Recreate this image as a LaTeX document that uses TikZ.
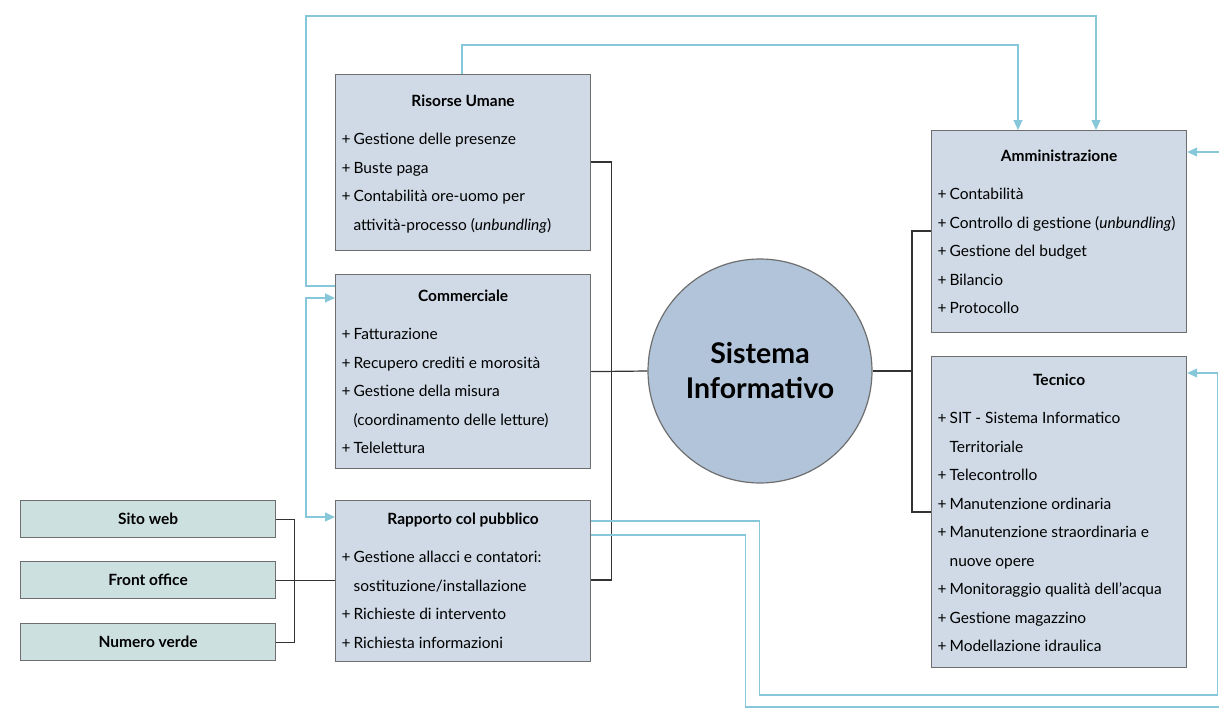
\documentclass[tikz,border=0pt]{standalone}
\usepackage{fontspec}
\setmainfont{Lato}
\usetikzlibrary{arrows.meta, positioning, calc}

\definecolor{boxfill}{HTML}{CFDAE6}
\definecolor{canalefill}{HTML}{CDE0E0}
\definecolor{sifill}{HTML}{B2C4D9}
\definecolor{bordo}{HTML}{6E6E6E}
\definecolor{azzurro}{HTML}{86C8DA}

% una voce dell'elenco, e il suo seguito su una nuova riga
\newcommand\voce[1]{\par\noindent\hspace*{6pt}\makebox[12pt][l]{+}#1}
\newcommand\segue{\newline\hspace*{18pt}}
% contenuto di un reparto: [linea di base del titolo]{altezza}{titolo}{voci}
\newcommand\reparto[4][30]{%
  \begin{minipage}[t][#2pt][t]{255pt}\fontsize{15.5}{28.5}\selectfont\raggedright
  {\centering\rule{0pt}{#1pt}\textbf{#3}\par}\vspace{9.5pt}#4\par
  \end{minipage}}

\tikzset{
  repartobox/.style={draw=bordo, line width=1.2pt, fill=boxfill, inner sep=0pt, anchor=north west},
  canale/.style={draw=bordo, line width=1.2pt, fill=canalefill, minimum width=255pt,
    minimum height=37pt, inner sep=0pt, anchor=north west, font=\fontsize{15.5}{17}\selectfont\bfseries},
  legame/.style={draw=black!80, line width=1.2pt},
  flusso/.style={draw=azzurro, line width=1.1pt, -{Triangle[length=10pt,width=9pt]}},
}

\begin{document}
\begin{tikzpicture}[x=1pt, y=-1pt]
\useasboundingbox (0,0) rectangle (1219,712);

% reparti
\node[repartobox] (ru) at (335,74) {\reparto[32]{176}{Risorse Umane}{%
  \voce{Gestione delle presenze}
  \voce{Buste paga}
  \voce{Contabilità ore-uomo per\segue attività-processo (\textit{unbundling})}}};
\node[repartobox] (comm) at (335,274) {\reparto[27]{194}{Commerciale}{%
  \voce{Fatturazione}
  \voce{Recupero crediti e morosità}
  \voce{Gestione della misura\segue (coordinamento delle letture)}
  \voce{Telelettura}}};
\node[repartobox] (rapp) at (335,500) {\reparto[24]{161}{Rapporto col pubblico}{%
  \voce{Gestione allacci e contatori:\segue sostituzione/installazione}
  \voce{Richieste di intervento}
  \voce{Richiesta informazioni}}};
\node[repartobox] (ammin) at (931,130) {\reparto[31]{202}{Amministrazione}{%
  \voce{Contabilità}
  \voce{Controllo di gestione (\textit{unbundling})}
  \voce{Gestione del budget}
  \voce{Bilancio}
  \voce{Protocollo}}};
\node[repartobox] (tecn) at (931,356) {\reparto[29]{311}{Tecnico}{%
  \voce{SIT - Sistema Informatico\segue Territoriale}
  \voce{Telecontrollo}
  \voce{Manutenzione ordinaria}
  \voce{Manutenzione straordinaria e\segue nuove opere}
  \voce{Monitoraggio qualità dell'acqua}
  \voce{Gestione magazzino}
  \voce{Modellazione idraulica}}};

% canali verso il pubblico
\node[canale] (sito) at (20,500) {Sito web};
\node[canale] (front) at (20,561) {Front office};
\node[canale] (numero) at (20,623) {Numero verde};

% centro
\node[circle, draw=bordo, line width=1.2pt, fill=sifill, minimum size=224pt, align=center,
  font=\fontsize{28.5}{35}\selectfont\bfseries] (si) at (760,371) {Sistema\\Informativo};

% collegamenti al sistema informativo
\draw[legame] ([yshift=-88pt]ru.north east) -- ++(20,0) |- ([yshift=-80pt]rapp.north east);
\draw[legame] (comm.east) -- (si.west);
\draw[legame] (si.east) -- ++(40,0);
\draw[legame] ([yshift=-101pt]ammin.north west) -- ++(-19,0) |- ([yshift=-156pt]tecn.north west);
\draw[legame] (sito.east) -- ++(18,0) |- (numero.east);
\draw[legame] (front.east) -- (rapp.west |- front.east);

% flussi informativi
\draw[flusso] ([yshift=-12pt]comm.north west) -- ++(-29,0) -- ++(0,-270) -| ([xshift=165pt]ammin.north west);
\draw[flusso, {Triangle[length=10pt,width=9pt]}-{Triangle[length=10pt,width=9pt]}]
  ([yshift=-24pt]comm.north west) -- ++(-29,0) |- ([yshift=-17pt]rapp.north west);
\draw[flusso] ([xshift=127pt]ru.north west) -- ++(0,-29) -| ([xshift=87pt]ammin.north west);
\draw[flusso] ([yshift=-21pt]rapp.north east) -- ++(168,0) -- ++(0,174) -- ++(458,0) |- ([yshift=-17pt]tecn.north east);
\draw[flusso] ([yshift=-35pt]rapp.north east) -- ++(154,0) -- ++(0,172) -- ++(485,0) |- ([yshift=-22pt]ammin.north east);
\end{tikzpicture}
\end{document}
